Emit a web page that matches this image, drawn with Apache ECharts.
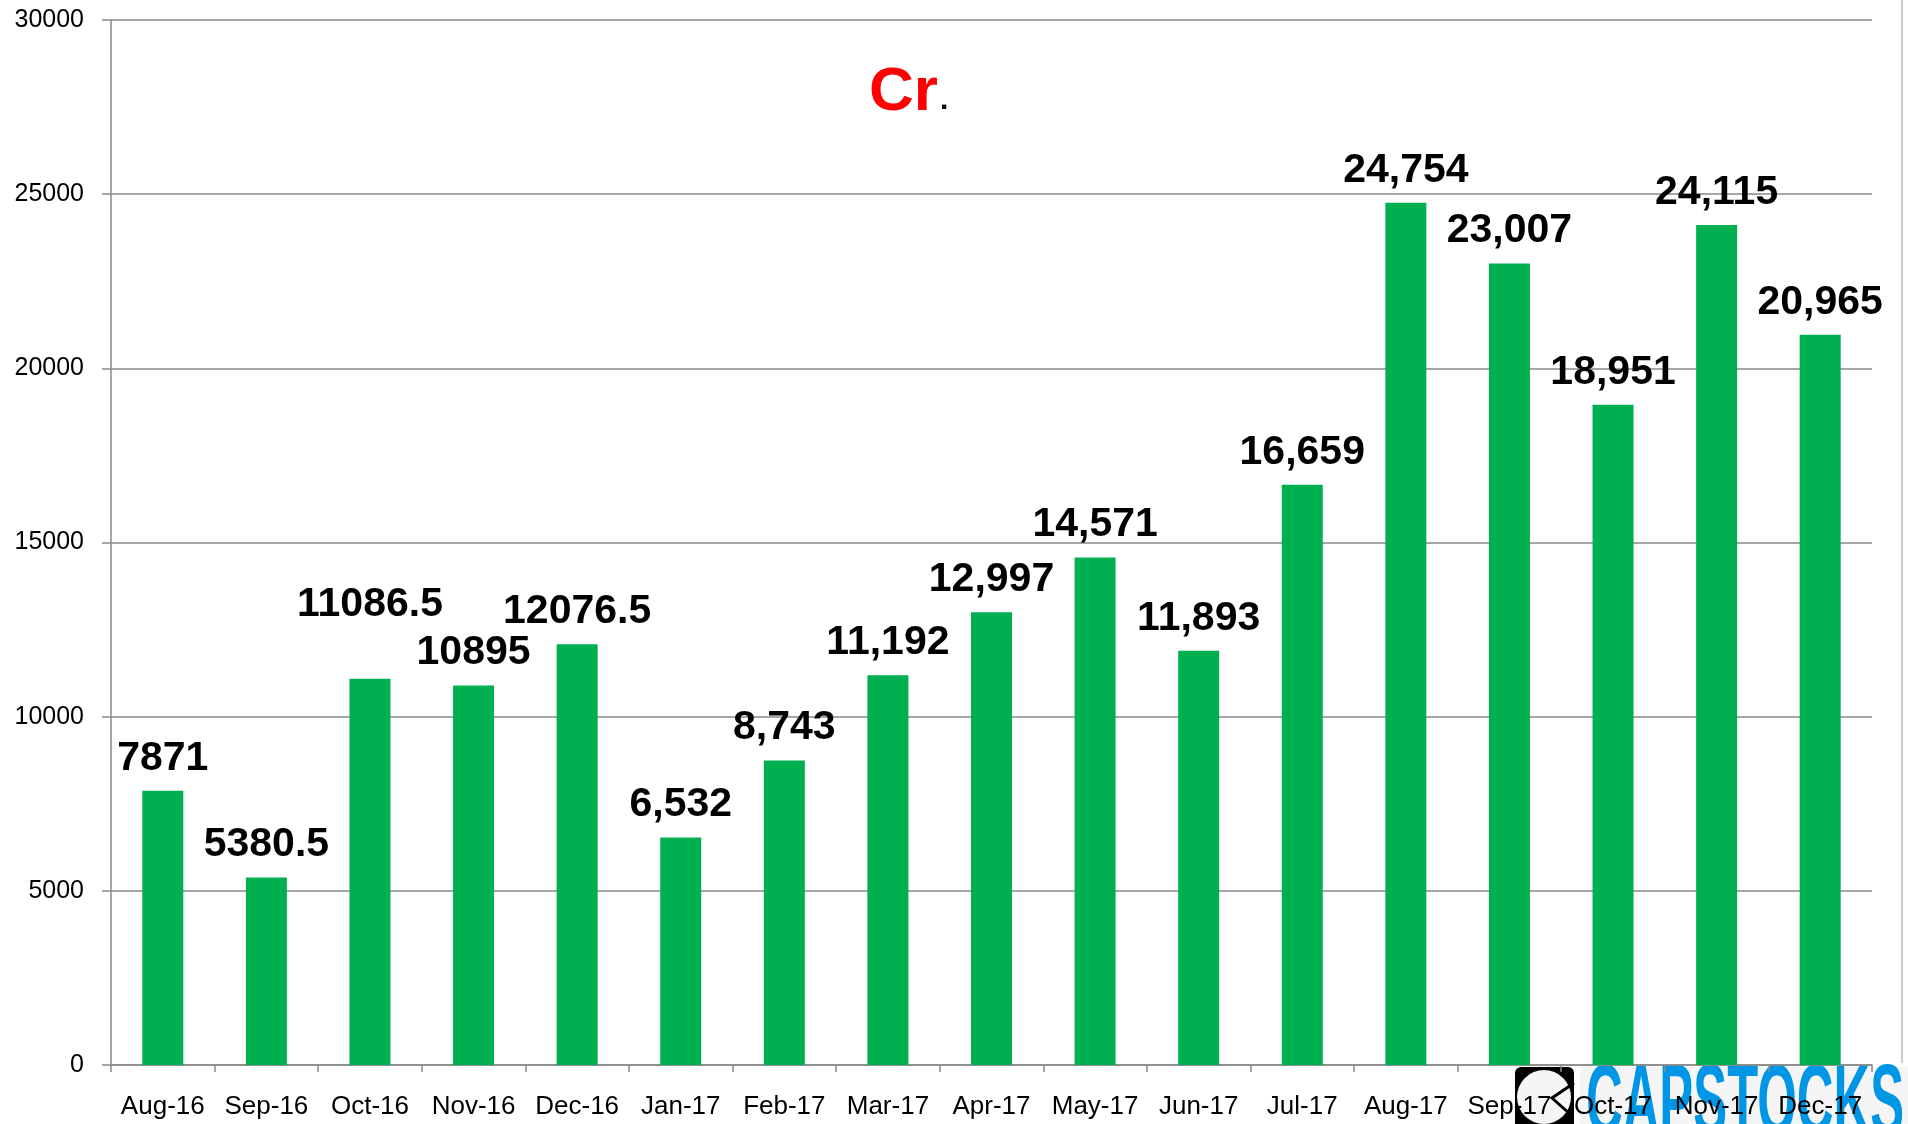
<!DOCTYPE html>
<html>
<head>
<meta charset="utf-8">
<script src="https://cdn.jsdelivr.net/npm/echarts@6/dist/echarts.min.js"></script>
<style>
  html, body { margin: 0; padding: 0; background: #fff; }
  #chart { width: 1908px; height: 1124px; }
</style>
</head>
<body>
<div id="chart"></div>
<script>
var months = ['Aug-16', 'Sep-16', 'Oct-16', 'Nov-16', 'Dec-16', 'Jan-17', 'Feb-17', 'Mar-17', 'Apr-17',
  'May-17', 'Jun-17', 'Jul-17', 'Aug-17', 'Sep-17', 'Oct-17', 'Nov-17', 'Dec-17'];
var values = [7871, 5380.5, 11086.5, 10895, 12076.5, 6532, 8743, 11192, 12997,
  14571, 11893, 16659, 24754, 23007, 18951, 24115, 20965];
// labels as printed on the chart (mixed formats)
var valueLabels = ['7871', '5380.5', '11086.5', '10895', '12076.5', '6,532', '8,743', '11,192', '12,997',
  '14,571', '11,893', '16,659', '24,754', '23,007', '18,951', '24,115', '20,965'];
var yTicks = [0, 5000, 10000, 15000, 20000, 25000, 30000];

var font = 'Liberation Sans, Arial, sans-serif';
var chart = echarts.init(document.getElementById('chart'));

// the Oct-16 label sits higher than the others in the original
var barData = values.map(function (v, i) {
  if (i === 2) return { value: v, label: { offset: [0, -42] } };
  return v;
});

var option = {
  backgroundColor: '#fff',
  animation: false,
  title: {
    text: '{a|Cr}{b|.}',
    left: 864,
    top: 57,
    textStyle: {
      rich: {
        a: { fontFamily: font, fontWeight: 'bold', fontSize: 62, color: '#ff0000' },
        b: { fontFamily: font, fontSize: 30, color: '#000', verticalAlign: 'bottom', padding: [0, 0, 8, 2] }
      }
    }
  },
  grid: { left: 111, right: 36, top: 20, bottom: 59 },
  xAxis: {
    type: 'category',
    data: months,
    axisLine: { lineStyle: { color: '#898989', width: 1.5 } },
    axisTick: { show: true, length: 7, lineStyle: { color: '#898989', width: 1.5 } },
    axisLabel: { color: '#000', fontFamily: font, fontSize: 26, margin: 29, interval: 0 }
  },
  yAxis: {
    type: 'value',
    min: yTicks[0],
    max: yTicks[yTicks.length - 1],
    interval: 5000,
    axisLine: { show: true, lineStyle: { color: '#898989', width: 1.5 } },
    axisTick: { show: true, length: 9, lineStyle: { color: '#898989', width: 1.5 } },
    splitLine: { lineStyle: { color: '#898989', width: 1.5 } },
    axisLabel: { color: '#000', fontFamily: font, fontSize: 25, margin: 27,
      formatter: function (v) { return String(v); } }
  },
  series: [{
    type: 'bar',
    data: barData,
    barWidth: 41,
    itemStyle: { color: '#00b050' },
    label: {
      show: true,
      position: 'top',
      distance: 12,
      color: '#000',
      fontFamily: font,
      fontWeight: 'bold',
      fontSize: 41,
      formatter: function (p) { return valueLabels[p.dataIndex]; }
    }
  }],
  graphic: [
    // thin frame line on the right
    { type: 'line', z: -1, shape: { x1: 1902, y1: 0, x2: 1902, y2: 1063 },
      style: { stroke: '#bdbdbd', lineWidth: 1.5 } },
    // CAPSTOCKS logo behind the axis labels
    { type: 'rect', z: -1, shape: { x: 1580, y: 1067, width: 328, height: 60 },
      style: { fill: '#f5f5f5' } },
    { type: 'rect', z: -1, shape: { x: 1515, y: 1067, width: 59, height: 66, r: 6 },
      style: { fill: '#000' } },
    { type: 'circle', z: -1, shape: { cx: 1544, cy: 1097, r: 27 },
      style: { fill: '#f5f5f5' } },
    { type: 'polyline', z: -1, shape: { points: [[1574, 1083], [1552, 1098], [1570, 1114]] },
      style: { stroke: '#000', lineWidth: 3, fill: 'none' } },
    { type: 'text', z: -1, x: 1586, y: 1056, scaleX: 0.508,
      style: { text: 'CAPSTOCKS', fontFamily: font, fontWeight: 'bold', fontSize: 100,
        fill: '#0096e6', verticalAlign: 'top' } }
  ]
};

chart.setOption(option);
</script>
</body>
</html>
